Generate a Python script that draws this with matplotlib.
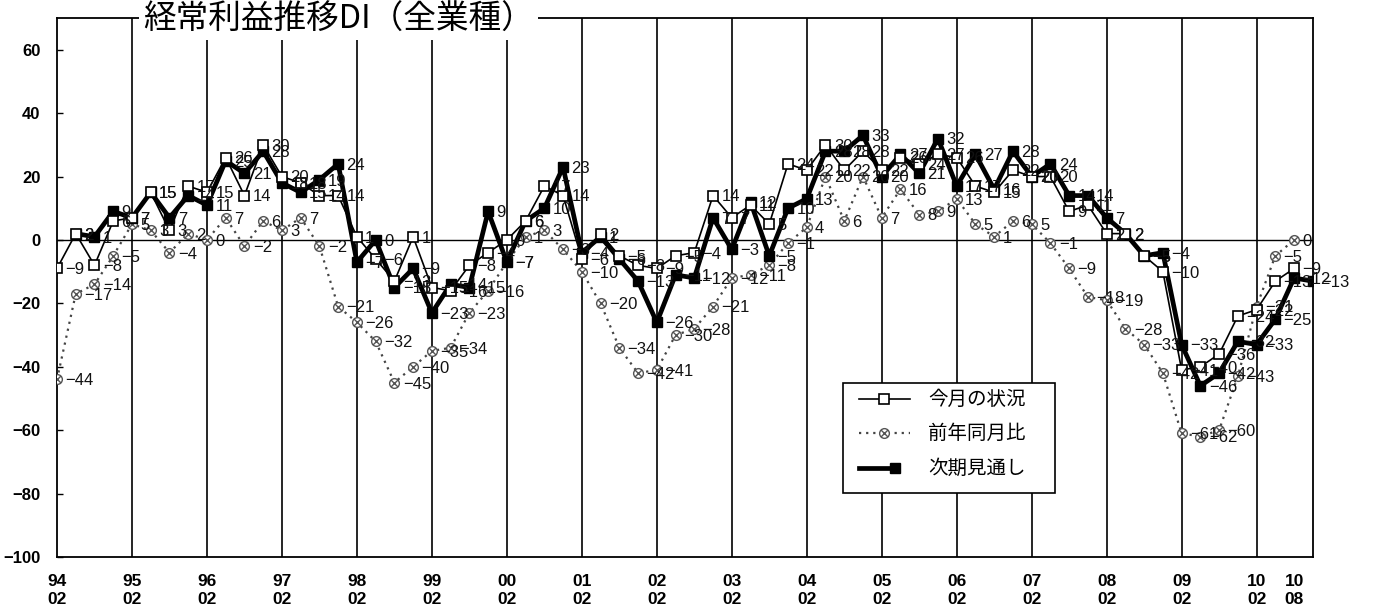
import matplotlib
matplotlib.use("Agg")
import matplotlib.pyplot as plt
from matplotlib.path import Path
from matplotlib.lines import Line2D
from matplotlib.patches import Rectangle
from matplotlib import font_manager

# ---- data -------------------------------------------------------------
years = ["94", "95", "96", "97", "98", "99", "00", "01", "02",
         "03", "04", "05", "06", "07", "08", "09", "10"]
months = ["02", "05", "08", "11"]
quarters = [(y, m) for y in years for m in months]   # 94/02 ... 10/11

# 今月の状況 (94/02 - 10/08)
current = [-9, 2, -8, 6, 7, 15, 3, 17, 15, 26,
           14, 30, 20, 18, 14, 14, 1, -6, -13, 1,
           -15, -16, -8, -4, 0, 6, 17, 14, -6, 2,
           -5, -8, -9, -5, -4, 14, 7, 11, 5, 24,
           22, 30, 22, 28, 22, 26, 24, 27, 26, 17,
           15, 22, 20, 20, 9, 11, 2, 2, -5, -10,
           -41, -40, -36, -24, -22, -13, -9]

# 前年同月比 (94/02 - 10/08)
yoy = [-44, -17, -14, -5, 5, 3, -4, 2, 0, 7,
       -2, 6, 3, 7, -2, -21, -26, -32, -45, -40,
       -35, -34, -23, -16, -7, 1, 3, -3, -10, -20,
       -34, -42, -41, -30, -28, -21, -12, -11, -8, -1,
       4, 20, 6, 20, 7, 16, 8, 9, 13, 5,
       1, 6, 5, -1, -9, -18, -19, -28, -33, -42,
       -61, -62, -60, -43, -21, -5, 0]

# 次期見通し (plotted at the following period: 94/05 - 10/11)
outlook = [2, 1, 9, 7, 15, 7, 14, 11, 25, 21,
           28, 18, 15, 19, 24, -7, 0, -15, -9, -23,
           -14, -15, 9, -7, 6, 10, 23, -4, 1, -6,
           -13, -26, -11, -12, 7, -3, 12, -5, 10, 13,
           28, 28, 33, 20, 27, 21, 32, 17, 27, 16,
           28, 20, 24, 14, 14, 7, 2, -5, -4, -33,
           -46, -42, -32, -33, -25, -12, -13]

series_names = ["今月の状況", "前年同月比", "次期見通し"]
title = "経常利益推移DI（全業種）"
y_ticks = [60, 40, 20, 0, -20, -40, -60, -80, -100]

# ---- fonts ------------------------------------------------------------
installed = {f.name for f in font_manager.fontManager.ttflist}
num_font = "Liberation Sans Narrow" if "Liberation Sans Narrow" in installed else "Liberation Sans"
plt.rcParams["font.family"] = ["Liberation Sans", "DejaVu Sans"]
jp = ["Noto Sans CJK JP", "DejaVu Sans"]


def fmt(v):
    return str(v).replace("-", "\u2212")


# ---- figure -----------------------------------------------------------
fig = plt.figure(figsize=(13.77, 6.09), dpi=100)
ax = fig.add_axes([0.0414, 0.0854, 0.912, 0.885])

n_all = len(quarters)
x_cur = list(range(len(current)))
x_yoy = list(range(len(yoy)))
x_out = list(range(1, len(outlook) + 1))

# year separators and the zero line
year_pos = [i for i, q in enumerate(quarters) if q[1] == "02"]
for p in year_pos[1:]:
    ax.axvline(p, color="black", lw=1.2, zorder=1)
ax.axhline(0, color="black", lw=1.0, zorder=1)

# circle-with-cross marker for the year-on-year series
circ = Path.unit_circle()
cross = Path([(-0.7, -0.7), (0.7, 0.7), (-0.7, 0.7), (0.7, -0.7)],
             [Path.MOVETO, Path.LINETO, Path.MOVETO, Path.LINETO])
ring_x = Path.make_compound_path(circ, cross)

yoy_style = dict(linestyle=(0, (1, 2.2)), color="#444444", lw=1.6,
                 marker=ring_x, markersize=7, markerfacecolor="white",
                 markeredgecolor="#555555", markeredgewidth=1.0)
out_style = dict(color="black", lw=3.4, marker="s", markersize=6.5,
                 markerfacecolor="black", markeredgecolor="black")
cur_style = dict(color="black", lw=1.2, marker="s", markersize=7.5,
                 markerfacecolor="white", markeredgecolor="black",
                 markeredgewidth=1.2)

ax.plot(x_yoy, yoy, zorder=3, **yoy_style)
ax.plot(x_out, outlook, zorder=4, **out_style)
ax.plot(x_cur, current, zorder=5, **cur_style)

# value labels beside every point
for xs, vals in ((x_yoy, yoy), (x_out, outlook), (x_cur, current)):
    for xi, v in zip(xs, vals):
        ax.annotate(fmt(v), (xi, v), xytext=(6, -1), textcoords="offset points",
                    ha="left", va="center", fontsize=12, color="#111111",
                    family=["Liberation Sans", "DejaVu Sans"], zorder=6)

ax.set_xlim(0, n_all - 1)
ax.set_ylim(-100, 70)

# axes decoration
for s in ax.spines.values():
    s.set_linewidth(1.3)
    s.set_color("black")

ax.set_yticks(y_ticks)
ax.set_yticklabels([fmt(t) for t in y_ticks], fontsize=12, fontweight="bold",
                   family=[num_font, "DejaVu Sans"])
ax.tick_params(axis="y", direction="in", length=4, width=1, pad=12)

last = len(current) - 1
xt = year_pos + [last]
xl = [f"{quarters[i][0]}\n{quarters[i][1]}" for i in xt]
ax.set_xticks(xt)
ax.set_xticklabels(xl, fontsize=12.5, fontweight="bold", linespacing=1.25,
                   family=[num_font, "DejaVu Sans"])
ax.tick_params(axis="x", length=0, pad=12)

# legend box (axes-fraction layout)
T = ax.transAxes
box = Rectangle((0.6258, 0.1187), 0.1688, 0.2041, transform=T, facecolor="white",
                edgecolor="black", lw=1.2, zorder=10)
ax.add_patch(box)
rows = [0.2931, 0.2301, 0.1651]
h0, h1, htxt = 0.6385, 0.6791, 0.6935
for y, st, name, kind in zip(rows, (cur_style, yoy_style, out_style),
                             series_names, ("cur", "yoy", "out")):
    if kind == "out":
        ax.add_line(Line2D([h0, h1 - 0.012], [y, y], transform=T, zorder=11,
                           **{k: v for k, v in st.items() if k != "marker"}))
        ax.add_line(Line2D([h1 - 0.012], [y], transform=T, zorder=11,
                           linestyle="none", marker="s", markersize=6.5,
                           color="black"))
    else:
        ax.add_line(Line2D([h0, h1], [y, y], transform=T, zorder=11,
                           **{k: v for k, v in st.items() if k != "marker"}))
        ax.add_line(Line2D([(h0 + h1) / 2], [y], transform=T, zorder=11,
                           linestyle="none", marker=st["marker"],
                           markersize=st["markersize"],
                           markerfacecolor=st["markerfacecolor"],
                           markeredgecolor=st["markeredgecolor"],
                           markeredgewidth=st.get("markeredgewidth", 1.0)))
    ax.text(htxt, y, name, transform=T, ha="left", va="center", fontsize=14,
            family=jp, zorder=12)

# title sitting on the top frame
fig.text(0.246, 0.968, title, ha="center", va="center", fontsize=23.5,
         family=jp, bbox=dict(facecolor="white", edgecolor="none", pad=3))

fig.savefig("out.png", dpi=100)
